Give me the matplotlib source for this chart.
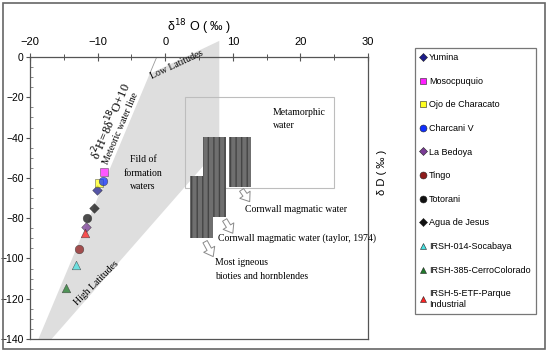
import matplotlib
matplotlib.use("Agg")
import matplotlib.pyplot as plt
from matplotlib.patches import Polygon, Rectangle
from matplotlib.lines import Line2D
from matplotlib.ticker import MultipleLocator

# sample data (d18O, dD)
names = ["Yumina", "Mosocpuquio", "Ojo de Characato", "Charcani V", "La Bedoya",
         "Tingo", "Totorani", "Agua de Jesus", "IRSH-014-Socabaya",
         "IRSH-385-CerroColorado", "IRSH-5-ETF-Parque\nIndustrial"]
d18o = [-10.1, -9.05, -9.75, -9.25, -11.75, -12.75, -11.5, -10.6, -13.25, -14.7, -11.9]
dd = [-66.0, -57.0, -62.7, -61.4, -84.6, -95.3, -79.8, -75.0, -103.3, -114.5, -87.6]
markers = ["D", "s", "s", "o", "D", "o", "o", "D", "^", "^", "^"]
colors = ["#1c1c8a", "#ff1eff", "#ffff1e", "#1030ff", "#7a3c96", "#8e1c1c",
          "#111111", "#111111", "#48e0e0", "#1f7a2a", "#ff2222"]

# fields
formation_field = [(-2.3, -8.4), (8, 8), (8, -45), (-16.8, -140), (-18.75, -140)]
meta_box = (3, -65, 22, 45)  # x, y, w, h
cornwall_rects = [(5.55, -79.5, 3.4, 39.8), (9.4, -64.3, 3.3, 24.7), (3.7, -90.1, 3.4, 31.1)]
arrows = [((11.3, -66.0), (12.5, -71.8)), ((8.8, -80.9), (10.0, -87.5)), ((5.9, -91.7), (7.1, -99.1))]

serif = "Liberation Serif"
sans = "Liberation Sans"

fig = plt.figure(figsize=(5.5, 3.53), dpi=100)
fig.patches.append(Rectangle((3 / 550, 1 - 349 / 353), 542 / 550, 346 / 353,
                             transform=fig.transFigure, fill=False,
                             ec="#666666", lw=1.2))
ax = fig.add_axes([30 / 550, 1 - 339 / 353, 338 / 550, 282 / 353])
ax.set_xlim(-20, 30)
ax.set_ylim(-140, 0)

ax.add_patch(Polygon(formation_field, closed=True, fc="#dedede", ec="none",
                     clip_on=False, zorder=1))
ax.plot([-1.25, -2.3], [0, -8.4], color="#9a9a9a", lw=0.6, zorder=1)

ax.add_patch(Rectangle(meta_box[:2], meta_box[2], meta_box[3], fill=False,
                       ec="#bdbdbd", lw=0.8, zorder=2))
for r in cornwall_rects:
    ax.add_patch(Rectangle(r[:2], r[2], r[3], fc="#6f6f6f", ec="#454545",
                           lw=0, hatch="|||", zorder=3))
for a, b in arrows:
    ax.annotate("", xy=b, xytext=a,
                arrowprops=dict(arrowstyle="simple,head_width=0.9,head_length=0.6,tail_width=0.35",
                                fc="white", ec="#8a8a8a", lw=0.7, shrinkA=0, shrinkB=0,
                                mutation_scale=10), zorder=4)

for x, y, m, c in zip(d18o, dd, markers, colors):
    ax.scatter(x, y, marker=m, s=38 if m != "D" else 24, c=c, alpha=0.75,
               edgecolors="#333333", linewidths=0.4, zorder=5)

ax.text(1.7, -4, "Low Latitudes", rotation=25, ha="center", va="center",
        family=serif, fontsize=7, zorder=6)
ax.text(-10.1, -112, "High Latitudes", rotation=45, ha="center", va="center",
        family=serif, fontsize=7, zorder=6)
ax.text(-8.0, -32, "δ$^{2}$H=8δ$^{18}$O+10", rotation=67, ha="center", va="center",
        family=serif, fontsize=9, zorder=6)
ax.text(-6.6, -35.5, "Meteoric water line", rotation=67, ha="center", va="center",
        family=serif, fontsize=7, zorder=6)
ax.text(-3.3, -57.6, "Fild of\nformation\nwaters", ha="center", va="center",
        family=serif, fontsize=7, linespacing=1.6, zorder=6)
ax.text(15.95, -30.8, "Metamorphic\nwater", ha="left", va="center",
        family=serif, fontsize=7, linespacing=1.6, zorder=6)
ax.text(11.8, -75.5, "Cornwall magmatic water", ha="left", va="center",
        family=serif, fontsize=7, zorder=6)
ax.text(7.8, -90, "Cornwall magmatic water (taylor, 1974)", ha="left", va="center",
        family=serif, fontsize=7, zorder=6)
ax.text(7.4, -105.5, "Most igneous\nbioties and hornblendes", ha="left", va="center",
        family=serif, fontsize=7, linespacing=1.6, zorder=6)

# axes styling
for s in ax.spines.values():
    s.set_color("#555555")
    s.set_linewidth(0.9)
ax.xaxis.tick_top()
ax.xaxis.set_major_locator(MultipleLocator(10))
ax.xaxis.set_minor_locator(MultipleLocator(5))
ax.yaxis.set_major_locator(MultipleLocator(20))
ax.yaxis.set_minor_locator(MultipleLocator(5))
ax.tick_params(axis="x", which="major", direction="inout", length=6, width=0.8,
               colors="#555555", labelcolor="black", labelsize=8, pad=4)
ax.tick_params(axis="x", which="minor", direction="inout", length=4, width=0.7, colors="#555555")
ax.tick_params(axis="y", which="major", direction="out", length=3, width=0.8,
               colors="#555555", labelcolor="black", labelsize=7.5, pad=1.5)
ax.tick_params(axis="y", which="minor", direction="in", length=2.5, width=0.6, colors="#777777")
for lab in ax.get_xticklabels() + ax.get_yticklabels():
    lab.set_family(sans)
ax.set_xlabel("δ$^{18}$ O ( ‰ )", family=sans, fontsize=9, labelpad=4)
ax.xaxis.set_label_position("top")

fig.text(382 / 550, 1 - 172 / 353, "δ D ( ‰ )", rotation=90, ha="center", va="center",
         family=sans, fontsize=8)

handles = [Line2D([], [], marker=m, color=c, mec="#222222", mew=0.4, ls="none",
                  ms=5 if m != "D" else 4.5) for m, c in zip(markers, colors)]
leg = fig.legend(handles, names, loc="upper left",
                 bbox_to_anchor=(415 / 550, 1 - 47.7 / 353), frameon=True,
                 fancybox=False, edgecolor="#777777", framealpha=1,
                 prop={"family": sans, "size": 6.5}, labelspacing=1.62,
                 handlelength=0.6, handletextpad=0.35, borderpad=0.6,
                 borderaxespad=0)
leg.get_frame().set_linewidth(0.9)

fig.savefig("out.png", dpi=100)
